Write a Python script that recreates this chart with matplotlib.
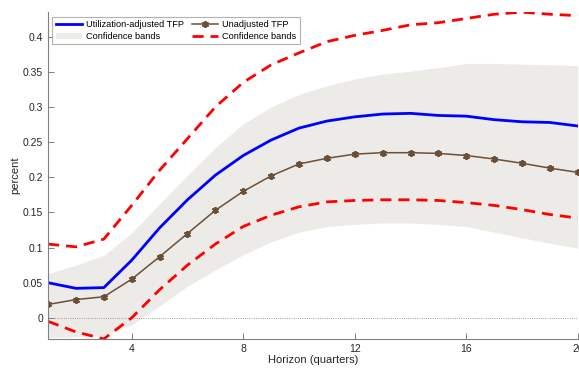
import matplotlib.pyplot as plt
import numpy as np

plt.rcParams['font.family'] = ['Liberation Sans', 'DejaVu Sans']

horizon = np.arange(1, 21)
adjusted = [0.050, 0.042, 0.043, 0.082, 0.128, 0.168, 0.203, 0.231, 0.253, 0.270,
            0.280, 0.286, 0.290, 0.291, 0.288, 0.287, 0.282, 0.279, 0.278, 0.273]
unadjusted = [0.019, 0.026, 0.030, 0.055, 0.087, 0.120, 0.153, 0.180, 0.202, 0.219,
              0.227, 0.233, 0.235, 0.235, 0.234, 0.231, 0.226, 0.220, 0.213, 0.207]
band_hi = [0.063, 0.075, 0.089, 0.121, 0.162, 0.203, 0.242, 0.276, 0.300, 0.318,
           0.330, 0.340, 0.347, 0.351, 0.356, 0.362, 0.362, 0.361, 0.360, 0.359]
band_lo = [-0.028, -0.027, -0.025, -0.010, 0.017, 0.045, 0.068, 0.090, 0.108, 0.122,
           0.130, 0.133, 0.135, 0.135, 0.133, 0.130, 0.122, 0.114, 0.106, 0.099]
red_hi = [0.105, 0.101, 0.112, 0.160, 0.210, 0.255, 0.300, 0.335, 0.360, 0.377,
          0.393, 0.402, 0.409, 0.417, 0.420, 0.426, 0.432, 0.435, 0.432, 0.430]
red_lo = [-0.005, -0.020, -0.030, 0.000, 0.040, 0.075, 0.105, 0.130, 0.146, 0.158,
          0.165, 0.167, 0.168, 0.168, 0.167, 0.164, 0.160, 0.154, 0.147, 0.142]

fig = plt.figure(figsize=(5.79, 3.68), dpi=100)
ax = fig.add_axes([0.083, 0.079, 0.915, 0.888])

band = ax.fill_between(horizon, band_lo, band_hi, color='#ecebe8', lw=0,
                       label='Confidence bands')
ax.axhline(0, color='#808080', lw=0.6, ls=':')
l1, = ax.plot(horizon, adjusted, color='#0000ff', lw=2,
              label='Utilization-adjusted TFP')
l2, = ax.plot(horizon, unadjusted, color='#6b4f37', lw=1.1, marker=(6, 2, 0),
              ms=5, mew=1.3, label='Unadjusted TFP')
l3, = ax.plot(horizon, red_hi, color='#ff0000', lw=2, ls=(0, (4, 2.5)),
              label='Confidence bands')
ax.plot(horizon, red_lo, color='#ff0000', lw=2, ls=(0, (4, 2.5)))

ax.set_xlim(1, 20)
ax.set_ylim(min(red_lo), max(red_hi))
ax.set_xticks([4, 8, 12, 16, 20])
ax.set_yticks(np.arange(0, 0.41, 0.05))
ax.set_yticklabels(['0', '0.05', '0.1', '0.15', '0.2', '0.25', '0.3', '0.35', '0.4'])
ax.tick_params(direction='in', length=4, width=0.7, color='#808080',
               labelsize=7.5, labelcolor='#262626')
for s in ['top', 'right']:
    ax.spines[s].set_visible(False)
for s in ['left', 'bottom']:
    ax.spines[s].set_color('#808080')
    ax.spines[s].set_linewidth(0.8)

ax.set_xlabel('Horizon (quarters)', fontsize=8, color='#262626', labelpad=1)
ax.set_ylabel('percent', fontsize=8, color='#262626', labelpad=2)

leg = ax.legend([l1, band, l2, l3],
                ['Utilization-adjusted TFP', 'Confidence bands',
                 'Unadjusted TFP', 'Confidence bands'],
                ncol=2, loc='upper left', bbox_to_anchor=(0.008, 0.985),
                fontsize=6.6, frameon=True, fancybox=False, handlelength=2.9,
                handletextpad=0.45, columnspacing=0.8, labelspacing=0.3,
                borderpad=0.35, borderaxespad=0)
leg.get_frame().set_edgecolor('#a0a0a0')
leg.get_frame().set_linewidth(0.8)

fig.savefig('out.png', dpi=100)
